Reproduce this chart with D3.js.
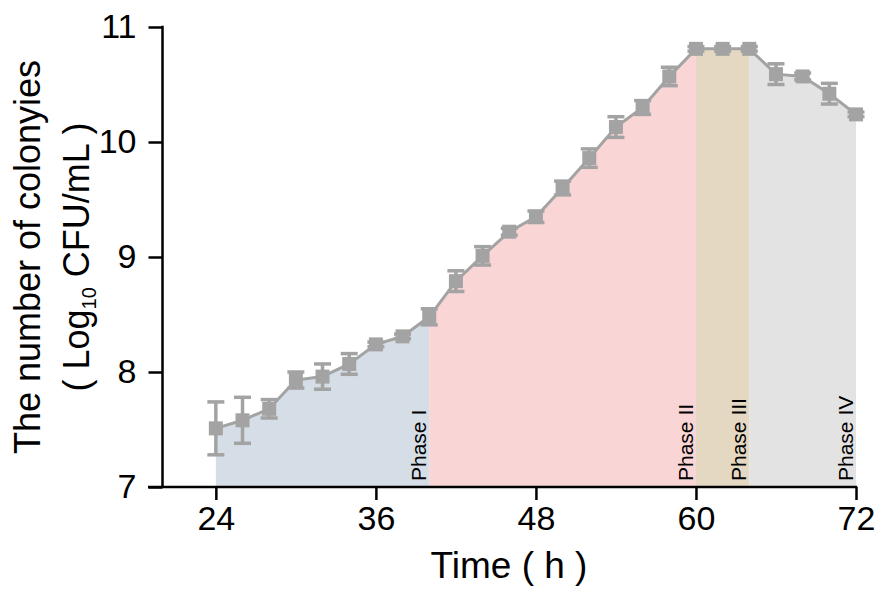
<!DOCTYPE html>
<html><head><meta charset="utf-8">
<script src="https://cdn.jsdelivr.net/npm/d3@7"></script>
<style>body{margin:0;background:#fff}svg{display:block;font-family:"Liberation Sans",Arial,sans-serif}</style>
</head><body>
<svg id="c" width="884" height="598"></svg>
<script>
const times = [24,26,28,30,32,34,36,38,40,42,44,46,48,50,52,54,56,58,60,62,64,66,68,70,72];
const values = [7.51,7.58,7.68,7.93,7.96,8.07,8.24,8.31,8.48,8.79,9.01,9.22,9.35,9.60,9.86,10.13,10.30,10.57,10.81,10.81,10.81,10.59,10.57,10.42,10.24];
const errors = [0.23,0.20,0.08,0.07,0.11,0.09,0.02,0.02,0.07,0.09,0.08,0.03,0.05,0.06,0.08,0.09,0.06,0.08,0.02,0.02,0.02,0.09,0.03,0.09,0.02];
const phases = [
  {name:"Phase I", from:24, to:40, color:"#d5dde6"},
  {name:"Phase II", from:40, to:60, color:"#f9d5d5"},
  {name:"Phase III", from:60, to:64, color:"#e5d8c2"},
  {name:"Phase IV", from:64, to:72, color:"#e3e3e3"}
];
const xTicks = [24,36,48,60,72];
const yTicks = [7,8,9,10,11];

const svg = d3.select("#c");
const x = d3.scaleLinear().domain([20,72]).range([162.5,856]);
const y = d3.scaleLinear().domain([7,11]).range([487,27]);
const data = times.map((t,i)=>({t, v:values[i], e:errors[i]}));

// phase areas under curve
const area = d3.area().x(d=>x(d.t)).y0(y(7)).y1(d=>y(d.v));
phases.forEach(p=>{
  const seg = data.filter(d=>d.t>=p.from && d.t<=p.to);
  svg.append("path").attr("d", area(seg)).attr("fill", p.color);
});

// phase labels
phases.forEach(p=>{
  const px = x(p.to)-3, py = 481;
  svg.append("text").attr("transform",`translate(${px},${py}) rotate(-90)`)
    .attr("font-size",21).attr("fill","#000").text(p.name);
});

const grey = "#a3a3a3";
// line
svg.append("path").datum(data)
  .attr("d", d3.line().x(d=>x(d.t)).y(d=>y(d.v)))
  .attr("fill","none").attr("stroke",grey).attr("stroke-width",3);

// error bars
const eb = svg.append("g").attr("stroke",grey).attr("stroke-width",3.5);
data.forEach(d=>{
  const cx = x(d.t);
  eb.append("line").attr("x1",cx).attr("x2",cx).attr("y1",y(d.v+d.e)).attr("y2",y(d.v-d.e));
  eb.append("line").attr("x1",cx-8.5).attr("x2",cx+8.5).attr("y1",y(d.v+d.e)).attr("y2",y(d.v+d.e));
  eb.append("line").attr("x1",cx-8.5).attr("x2",cx+8.5).attr("y1",y(d.v-d.e)).attr("y2",y(d.v-d.e));
});
// markers
svg.append("g").selectAll("rect").data(data).join("rect")
  .attr("x",d=>x(d.t)-7).attr("y",d=>y(d.v)-7).attr("width",14).attr("height",14)
  .attr("fill",grey);

// axes
const xAxis = svg.append("g").attr("transform",`translate(0,${y(7)})`)
  .call(d3.axisBottom(x).tickValues(xTicks).tickSize(13).tickPadding(6).tickFormat(d3.format("d")));
xAxis.select(".domain").remove();
xAxis.selectAll("line").attr("stroke","#000").attr("stroke-width",2.5);
xAxis.selectAll("text").attr("font-size",34).attr("fill","#000").attr("font-family","Liberation Sans, Arial, sans-serif");
svg.append("line").attr("x1",148).attr("x2",x(72)+1.25).attr("y1",y(7)).attr("y2",y(7))
  .attr("stroke","#000").attr("stroke-width",2.5);

const yAxis = svg.append("g").attr("transform",`translate(${x(20)},0)`)
  .call(d3.axisLeft(y).tickValues(yTicks).tickSize(14).tickPadding(12).tickFormat(d3.format("d")));
yAxis.select(".domain").remove();
yAxis.selectAll("line").attr("stroke","#000").attr("stroke-width",2.5);
yAxis.selectAll("text").attr("font-size",34).attr("fill","#000").attr("font-family","Liberation Sans, Arial, sans-serif");
svg.append("line").attr("x1",x(20)).attr("x2",x(20)).attr("y1",y(11)-1.25).attr("y2",y(7))
  .attr("stroke","#000").attr("stroke-width",2.5);

// axis titles
svg.append("text").attr("x",509).attr("y",578).attr("text-anchor","middle")
  .attr("font-size",37).attr("fill","#000").text("Time ( h )");

const yt = svg.append("g").attr("transform","translate(0,257) rotate(-90)");
yt.append("text").attr("x",0).attr("y",40).attr("text-anchor","middle")
  .attr("font-size",36).attr("fill","#000").text("The number of colonyies");
const t2 = yt.append("text").attr("x",0).attr("y",89).attr("text-anchor","middle")
  .attr("font-size",36).attr("fill","#000");
t2.append("tspan").text("( Log");
t2.append("tspan").attr("font-size",20).attr("dy",7).text("10");
t2.append("tspan").attr("dy",-7).text(" CFU/mL )");
</script>
</body></html>
